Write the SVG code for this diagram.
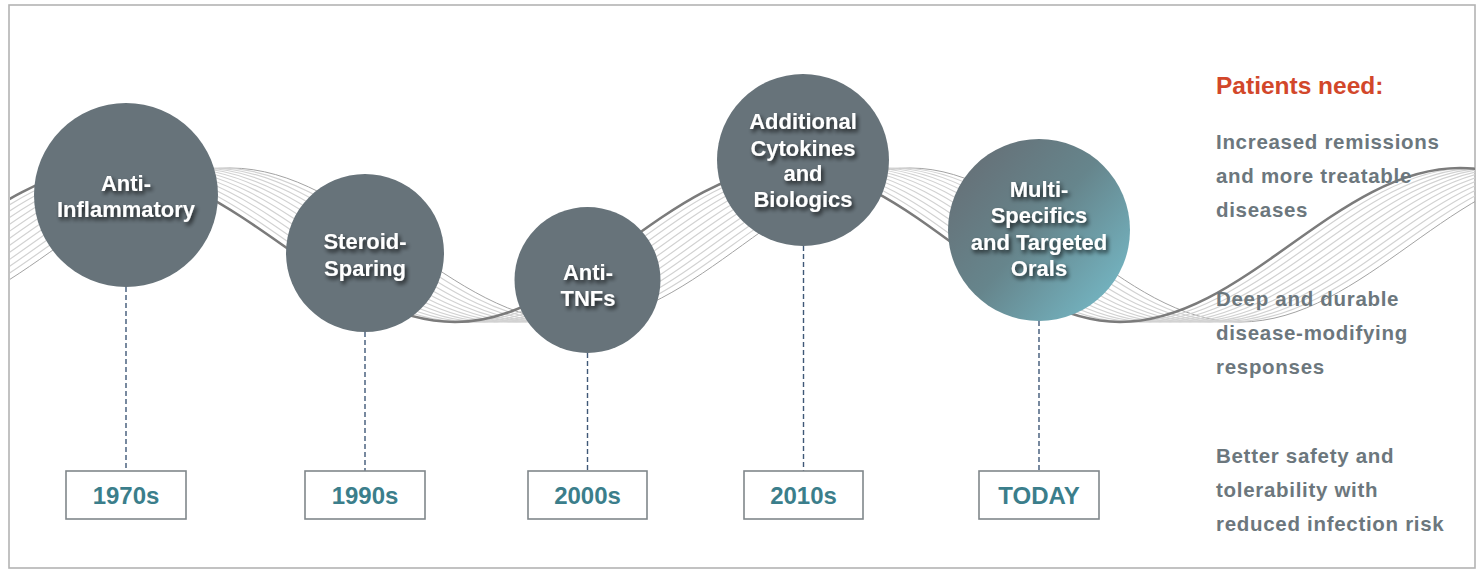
<svg xmlns="http://www.w3.org/2000/svg" xmlns:xlink="http://www.w3.org/1999/xlink" width="1484" height="569" viewBox="0 0 1484 569">
  <style>
    .node { fill: #67737a; }
    .lbl { font-family: "Liberation Sans", Arial, sans-serif; font-weight: bold; font-size: 22px; fill: #ffffff; text-anchor: middle; filter: url(#shadow); }
    .year { font-family: "Liberation Sans", Arial, sans-serif; font-weight: bold; font-size: 24px; fill: #3b7e8b; text-anchor: middle; }
    .box { fill: #ffffff; stroke: #80878b; stroke-width: 1.6; }
    .dash { stroke: #3f5877; stroke-width: 1.4; stroke-dasharray: 5 3; fill: none; }
    .need { font-family: "Liberation Sans", Arial, sans-serif; font-weight: bold; font-size: 20.5px; letter-spacing: 0.7px; fill: #6c777d; }
    .title { font-family: "Liberation Sans", Arial, sans-serif; font-weight: bold; font-size: 24.5px; fill: #d2472a; }
    .wl { fill: none; stroke: #d2d2d2; stroke-width: 1.2; }
    .wb { fill: none; stroke: #a3a3a3; stroke-width: 1; }
    .wd { fill: none; stroke: #7b7b7b; stroke-width: 2.6; }
  </style>
  <defs>
    <filter id="shadow" x="-20%" y="-30%" width="140%" height="170%">
      <feDropShadow dx="2" dy="3" stdDeviation="2" flood-color="#000" flood-opacity="0.75"/>
    </filter>
    <linearGradient id="teal" x1="0.15" y1="0.15" x2="0.95" y2="0.85">
      <stop offset="0" stop-color="#66737a"/>
      <stop offset="0.45" stop-color="#66858c"/>
      <stop offset="1" stop-color="#74b6c3"/>
    </linearGradient>
    <clipPath id="frameClip">
      <rect x="10" y="6" width="1465" height="561"/>
    </clipPath>
    <path id="wave" d="M -570,168 C -446.4,168 -353.6,322 -230,322 C -106.4,322 -13.6,168 110,168 C 235.4,168 329.6,322 455,322 C 576.7,322 668.3,168 790,168 C 909.9,168 1000.1,322 1120,322 C 1243.6,322 1336.4,168 1460,168 C 1583.6,168 1676.4,322 1800,322"/>
  </defs>

  <rect x="0" y="0" width="1484" height="569" fill="#ffffff"/>
  <rect x="9" y="5" width="1466" height="563" fill="#ffffff" stroke="#b3b3b3" stroke-width="1.6"/>

  <g id="wave-ribbon" clip-path="url(#frameClip)">
    <use xlink:href="#wave" class="wb" transform="translate(120,0)"/>
    <use xlink:href="#wave" class="wl" transform="translate(110,0)"/>
    <use xlink:href="#wave" class="wl" transform="translate(100,0)"/>
    <use xlink:href="#wave" class="wl" transform="translate(90,0)"/>
    <use xlink:href="#wave" class="wl" transform="translate(80,0)"/>
    <use xlink:href="#wave" class="wl" transform="translate(70,0)"/>
    <use xlink:href="#wave" class="wl" transform="translate(60,0)"/>
    <use xlink:href="#wave" class="wl" transform="translate(50,0)"/>
    <use xlink:href="#wave" class="wl" transform="translate(40,0)"/>
    <use xlink:href="#wave" class="wl" transform="translate(30,0)"/>
    <use xlink:href="#wave" class="wl" transform="translate(20,0)"/>
    <use xlink:href="#wave" class="wl" transform="translate(10,0)"/>
    <use xlink:href="#wave" class="wd"/>
  </g>

  <g id="connectors">
    <line class="dash" x1="126" y1="287" x2="126" y2="471"/>
    <line class="dash" x1="365" y1="332" x2="365" y2="471"/>
    <line class="dash" x1="587.5" y1="353" x2="587.5" y2="471"/>
    <line class="dash" x1="803.5" y1="246" x2="803.5" y2="471"/>
    <line class="dash" x1="1039" y1="321" x2="1039" y2="471"/>
  </g>

  <g id="node-anti-inflammatory">
    <circle class="node" cx="126" cy="195" r="92"/>
    <text class="lbl" x="126" y="191">Anti-</text>
    <text class="lbl" x="126" y="217">Inflammatory</text>
  </g>
  <g id="node-steroid-sparing">
    <circle class="node" cx="365" cy="253" r="79"/>
    <text class="lbl" x="365" y="249">Steroid-</text>
    <text class="lbl" x="365" y="276">Sparing</text>
  </g>
  <g id="node-anti-tnfs">
    <circle class="node" cx="587.5" cy="280" r="73"/>
    <text class="lbl" x="588" y="280">Anti-</text>
    <text class="lbl" x="588" y="306">TNFs</text>
  </g>
  <g id="node-cytokines">
    <circle class="node" cx="803" cy="160" r="86"/>
    <text class="lbl" x="803" y="129">Additional</text>
    <text class="lbl" x="803" y="156">Cytokines</text>
    <text class="lbl" x="803" y="181">and</text>
    <text class="lbl" x="803" y="207">Biologics</text>
  </g>
  <g id="node-multispecifics">
    <circle cx="1039" cy="230" r="91" fill="url(#teal)"/>
    <text class="lbl" x="1039" y="197">Multi-</text>
    <text class="lbl" x="1039" y="223">Specifics</text>
    <text class="lbl" x="1039" y="250">and Targeted</text>
    <text class="lbl" x="1039" y="276">Orals</text>
  </g>

  <g id="year-1970s">
    <rect class="box" x="66" y="471" width="120" height="48"/>
    <text class="year" x="126" y="504">1970s</text>
  </g>
  <g id="year-1990s">
    <rect class="box" x="305" y="471" width="120" height="48"/>
    <text class="year" x="365" y="504">1990s</text>
  </g>
  <g id="year-2000s">
    <rect class="box" x="528" y="471" width="119" height="48"/>
    <text class="year" x="587.5" y="504">2000s</text>
  </g>
  <g id="year-2010s">
    <rect class="box" x="744" y="471" width="119" height="48"/>
    <text class="year" x="803.5" y="504">2010s</text>
  </g>
  <g id="year-today">
    <rect class="box" x="979" y="471" width="120" height="48"/>
    <text class="year" x="1039" y="504">TODAY</text>
  </g>

  <g id="patients-need">
    <text class="title" x="1216" y="94">Patients need:</text>
    <text class="need" x="1216" y="149">Increased remissions</text>
    <text class="need" x="1216" y="183">and more treatable</text>
    <text class="need" x="1216" y="217">diseases</text>
    <text class="need" x="1216" y="306">Deep and durable</text>
    <text class="need" x="1216" y="340">disease-modifying</text>
    <text class="need" x="1216" y="374">responses</text>
    <text class="need" x="1216" y="463">Better safety and</text>
    <text class="need" x="1216" y="497">tolerability with</text>
    <text class="need" x="1216" y="531">reduced infection risk</text>
  </g>
</svg>
